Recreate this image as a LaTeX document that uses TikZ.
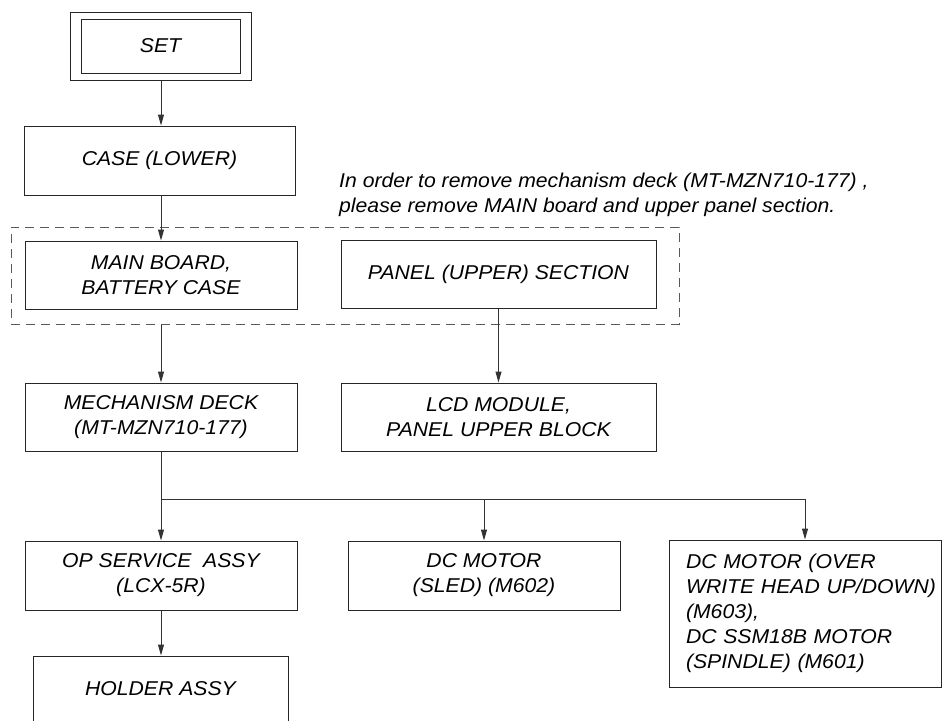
\documentclass[tikz,border=0pt]{standalone}
\usepackage{fontspec}
\setmainfont[FakeStretch=1.06]{Liberation Sans}
\usetikzlibrary{arrows.meta}
\tikzset{
  box/.style={draw=black!85, line width=1pt, rectangle, inner sep=0pt, align=center,
    font=\itshape\fontsize{20}{25}\selectfont},
  arr/.style={draw=black!80, line width=1pt, -{Triangle[length=11pt,width=6pt]}},
  ln/.style={draw=black!80, line width=1pt},
  grpbox/.style={draw=black!65, line width=1pt, dash pattern=on 9pt off 6pt, rectangle, inner sep=0pt},
  notetext/.style={font=\itshape\fontsize{20}{25}\selectfont, align=left, inner sep=0pt, anchor=west}
}
\begin{document}
\begin{tikzpicture}[x=1pt,y=-1pt]
\useasboundingbox (0,0) rectangle (942,720);
% group
\node[grpbox, minimum width=668pt, minimum height=97pt] (grp) at (345,275.5) {};
% nodes
\node[box, minimum width=181pt, minimum height=68pt] (set) at (160.5,46) {};
\node[box, minimum width=159pt, minimum height=54pt] (setin) at (160.5,46) {SET};
\node[box, minimum width=271pt, minimum height=69pt] (case) at (159.5,160.5) {CASE (LOWER)};
\node[box, minimum width=272pt, minimum height=68pt] (main) at (161,275) {MAIN BOARD,\\BATTERY CASE};
\node[box, minimum width=315pt, minimum height=68pt] (panel) at (498.5,274) {PANEL (UPPER) SECTION};
\node[box, minimum width=272pt, minimum height=68pt] (mech) at (161,417) {MECHANISM DECK\\(MT-MZN710-177)};
\node[box, minimum width=315pt, minimum height=68pt] (lcd) at (498.5,417) {LCD MODULE,\\PANEL UPPER BLOCK};
\node[box, minimum width=272pt, minimum height=69pt] (op) at (161,575.5) {OP SERVICE\ \ ASSY\\(LCX-5R)};
\node[box, minimum width=272pt, minimum height=69pt] (sled) at (484,575.5) {DC MOTOR\\(SLED) (M602)};
\node[box, minimum width=272pt, minimum height=147pt, text width=238pt, inner xsep=17pt, align=left] (motor) at (805,613.5)
  {\mbox{DC MOTOR (OVER}\\\mbox{WRITE HEAD UP/DOWN)}\\\mbox{(M603),}\\\mbox{DC SSM18B MOTOR}\\\mbox{(SPINDLE) (M601)}};
\node[box, minimum width=255pt, minimum height=66pt] (holder) at (160.5,689) {HOLDER ASSY};
% note
\node[notetext] (note) at (339,194.5) {In order to remove mechanism deck (MT-MZN710-177) ,\\please remove MAIN board and upper panel section.};
% connectors
\coordinate (bus) at (161,499);
\draw[arr] (set.south -| 161,0) -- (case.north -| 161,0);
\draw[arr] (case.south -| 161,0) -- (main.north -| 161,0);
\draw[arr] (grp.south -| main) -- (mech.north);
\draw[arr] (panel.south) -- (lcd.north);
\draw[ln] (mech.south) -- (bus);
\draw[arr] (bus) -- (op.north);
\draw[ln] (bus) -- (bus -| motor.north);
\draw[arr] (bus -| sled.north) -- (sled.north);
\draw[arr] (bus -| motor.north) -- (motor.north);
\draw[arr] (op.south) -- (holder.north -| op.south);
\end{tikzpicture}
\end{document}
